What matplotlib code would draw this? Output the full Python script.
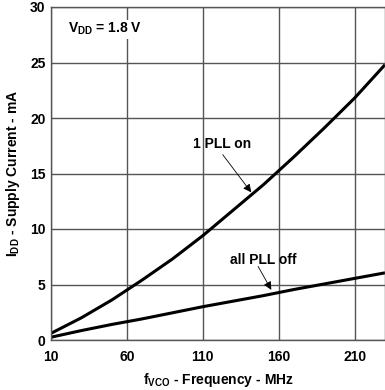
import numpy as np
import matplotlib
matplotlib.use('Agg')
import matplotlib.pyplot as plt

plt.rcParams['font.family'] = ['Liberation Sans', 'DejaVu Sans']
plt.rcParams['font.weight'] = 'bold'
plt.rcParams['axes.labelweight'] = 'bold'
plt.rcParams['mathtext.fontset'] = 'custom'
plt.rcParams['mathtext.rm'] = 'Liberation Sans:bold'
plt.rcParams['mathtext.it'] = 'Liberation Sans:bold'
plt.rcParams['mathtext.bf'] = 'Liberation Sans:bold'

# 读图数据
freq = [10, 30, 50, 70, 90, 110, 130, 150, 170, 190, 210, 230]
pll_on = [0.6, 2.0, 3.6, 5.4, 7.3, 9.4, 11.7, 14.0, 16.5, 19.1, 21.8, 24.8]
pll_off = [0.25, 0.85, 1.4, 1.9, 2.45, 3.0, 3.5, 4.0, 4.55, 5.05, 5.55, 6.05]
xticks = [10, 60, 110, 160, 210]
yticks = [0, 5, 10, 15, 20, 25, 30]

fig = plt.figure(figsize=(3.85, 3.9), dpi=100)
ax = fig.add_axes([51 / 385, 1 - 340 / 390, 334 / 385, 333 / 390])
ax.plot(freq, pll_on, color='black', lw=2.2, solid_capstyle='butt')
ax.plot(freq, pll_off, color='black', lw=2.2, solid_capstyle='butt')

ax.set_xlim(10, 230)
ax.set_ylim(0, 30)
ax.set_xticks(xticks)
ax.set_yticks(yticks)
ax.grid(True, color='#555555', lw=1.0)
ax.set_axisbelow(True)
ax.tick_params(length=0, labelsize=10)
ax.tick_params(axis='x', pad=7)
ax.tick_params(axis='y', pad=4)
for s in ax.spines.values():
    s.set_color('#555555')
    s.set_linewidth(1.0)

ax.set_xlabel(r'$\mathrm{f_{VCO}}$ - Frequency - MHz', fontsize=10, fontweight='bold', labelpad=5)
ax.set_ylabel(r'$\mathrm{I_{DD}}$ - Supply Current - mA', fontsize=10, fontweight='bold', labelpad=6)

ax.text(45.5, 28, r'$\mathrm{V_{DD}}$ = 1.8 V', fontsize=10, ha='center', va='center',
        bbox=dict(facecolor='white', edgecolor='none', pad=1))

arrow = dict(arrowstyle='-|>', color='black', lw=0.6, mutation_scale=12)
ax.text(123, 17.7, '1 PLL on', fontsize=10, ha='center', va='center')
ax.annotate('', xy=(143, 13.1), xytext=(122, 16.9), arrowprops=arrow)
ax.text(150, 7.25, 'all PLL off', fontsize=10, ha='center', va='center')
ax.annotate('', xy=(156, 4.3), xytext=(145.5, 6.85), arrowprops=arrow)

fig.savefig('out.png', dpi=100)
